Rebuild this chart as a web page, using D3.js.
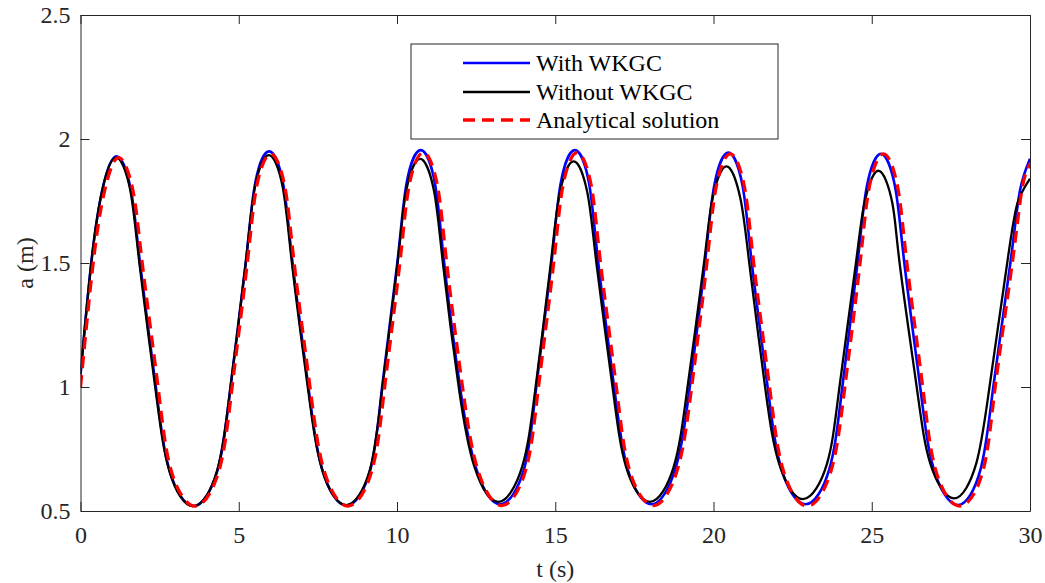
<!DOCTYPE html>
<html>
<head>
<meta charset="utf-8">
<script src="https://cdn.jsdelivr.net/npm/d3@7"></script>
<style>
  html, body { margin: 0; padding: 0; background: #fff; }
  svg { display: block; }
  text { font-family: "Liberation Serif", "Times New Roman", Times, serif; fill: #262626; }
</style>
</head>
<body>
<svg id="chart" width="1045" height="583"></svg>
<script>
// ---- data: [t (s), a (m)] ----
const withWKGC = [
  [0,1.05],[0.34,1.5],[0.69,1.795],[1.14,1.93],[1.59,1.795],[1.88,1.5],[2.38,1.0],[2.81,0.665],[3.57,0.52],
  [4.33,0.665],[4.74,1.0],[5.22,1.5],[5.51,1.815],[5.96,1.95],[6.41,1.815],[6.70,1.5],[7.20,1.0],[7.64,0.667],[8.40,0.522],
  [9.16,0.667],[9.53,1.0],[10.01,1.5],[10.30,1.82],[10.75,1.955],[11.20,1.82],[11.49,1.5],[11.99,1.0],[12.50,0.672],[13.26,0.527],
  [14.02,0.672],[14.40,1.0],[14.88,1.5],[15.17,1.82],[15.62,1.955],[16.07,1.82],[16.36,1.5],[16.86,1.0],[17.28,0.672],[18.04,0.527],
  [18.80,0.672],[19.25,1.0],[19.73,1.5],[20.02,1.81],[20.47,1.945],[20.92,1.81],[21.21,1.5],[21.71,1.0],[22.14,0.672],[22.90,0.527],
  [23.66,0.669],[24.07,1.0],[24.55,1.5],[24.84,1.805],[25.29,1.94],[25.74,1.805],[26.03,1.5],[26.53,1.0],[26.96,0.669],[27.72,0.524],
  [28.44,0.669],[28.84,1.0],[29.38,1.5],[29.68,1.79],[30,1.92]
];
const withoutWKGC = [
  [0,1.05],[0.34,1.5],[0.69,1.795],[1.13,1.925],[1.57,1.795],[1.86,1.5],[2.36,1.0],[2.81,0.66],[3.56,0.52],
  [4.31,0.66],[4.74,1.0],[5.22,1.5],[5.51,1.805],[5.95,1.935],[6.39,1.805],[6.68,1.5],[7.18,1.0],[7.64,0.664],[8.39,0.524],
  [9.14,0.664],[9.54,1.0],[10.02,1.5],[10.29,1.79],[10.73,1.92],[11.17,1.79],[11.45,1.5],[11.95,1.0],[12.45,0.677],[13.20,0.537],
  [13.95,0.677],[14.38,1.0],[14.86,1.5],[15.14,1.78],[15.58,1.91],[16.02,1.78],[16.30,1.5],[16.81,1.0],[17.24,0.677],[17.99,0.537],
  [18.74,0.677],[19.18,1.0],[19.70,1.5],[19.97,1.76],[20.41,1.89],[20.85,1.76],[21.13,1.5],[21.63,1.0],[22.08,0.688],[22.83,0.548],
  [23.58,0.688],[23.98,1.0],[24.50,1.5],[24.77,1.742],[25.21,1.872],[25.65,1.742],[25.88,1.5],[26.42,1.0],[26.85,0.691],[27.60,0.551],
  [28.30,0.691],[28.72,1.0],[29.28,1.5],[29.60,1.74],[30,1.84]
];
const analytical = [
  [0,1.0],[0.40,1.5],[0.76,1.79],[1.21,1.925],[1.66,1.79],[1.95,1.5],[2.45,1.0],[2.86,0.665],[3.62,0.52],
  [4.38,0.665],[4.79,1.0],[5.27,1.5],[5.56,1.805],[6.01,1.94],[6.46,1.805],[6.75,1.5],[7.25,1.0],[7.69,0.665],[8.45,0.52],
  [9.21,0.665],[9.61,1.0],[10.09,1.5],[10.38,1.81],[10.83,1.945],[11.28,1.81],[11.57,1.5],[12.07,1.0],[12.55,0.667],[13.31,0.522],
  [14.07,0.667],[14.47,1.0],[14.95,1.5],[15.24,1.81],[15.69,1.945],[16.14,1.81],[16.43,1.5],[16.93,1.0],[17.34,0.667],[18.10,0.522],
  [18.86,0.667],[19.31,1.0],[19.79,1.5],[20.08,1.805],[20.53,1.94],[20.98,1.805],[21.27,1.5],[21.77,1.0],[22.20,0.665],[22.96,0.52],
  [23.72,0.665],[24.15,1.0],[24.63,1.5],[24.92,1.805],[25.37,1.94],[25.82,1.805],[26.11,1.5],[26.61,1.0],[27.02,0.665],[27.78,0.52],
  [28.52,0.665],[28.90,1.0],[29.44,1.5],[29.75,1.80],[30,1.90]
];
const seriesNames = ["With WKGC", "Without WKGC", "Analytical solution"];
const xTicks = [0, 5, 10, 15, 20, 25, 30];
const yTicks = [0.5, 1, 1.5, 2, 2.5];
const xDomain = [0, 30];
const yDomain = [0.5, 2.5];
const xLabel = "t (s)";
const yLabel = "a (m)";

// ---- layout ----
const L = 80.5, R = 1030, T = 15, B = 511;
const svg = d3.select("#chart");
const x = d3.scaleLinear().domain(xDomain).range([L, R]);
const y = d3.scaleLinear().domain(yDomain).range([B, T]);
const axisColor = "#262626";
const fontSize = 24;
const fontFam = '"Liberation Serif", "Times New Roman", Times, serif';

function styleAxis(g) {
  g.selectAll("path.domain").attr("stroke", axisColor).attr("stroke-width", 1);
  g.selectAll(".tick line").attr("stroke", axisColor).attr("stroke-width", 1);
  g.selectAll(".tick text").attr("fill", axisColor)
    .attr("font-family", fontFam).style("font-family", fontFam)
    .style("font-size", fontSize + "px");
}

svg.append("rect").attr("x", 0).attr("y", 0).attr("width", 1045).attr("height", 583).attr("fill", "#fff");

// curves
svg.append("clipPath").attr("id", "plotclip")
  .append("rect").attr("x", L).attr("y", T).attr("width", R - L).attr("height", B - T);
const line = d3.line().x(d => x(d[0])).y(d => y(d[1])).curve(d3.curveNatural);
const gPlot = svg.append("g").attr("clip-path", "url(#plotclip)");
const styles = [
  { data: withWKGC, color: "#0000ff", width: 2.6, dash: null },
  { data: withoutWKGC, color: "#000000", width: 2.3, dash: null },
  { data: analytical, color: "#ff0000", width: 3.3, dash: "12,7" }
];
styles.forEach(s => {
  gPlot.append("path").datum(s.data)
    .attr("d", line).attr("fill", "none")
    .attr("stroke", s.color).attr("stroke-width", s.width)
    .attr("stroke-dasharray", s.dash).attr("stroke-linejoin", "round");
});

// axes (MATLAB-style box with inward ticks)
const fmt = d => String(d);
svg.append("g").attr("transform", `translate(0,${B})`)
  .call(d3.axisBottom(x).tickValues(xTicks).tickFormat(fmt).tickSize(-9).tickSizeOuter(0).tickPadding(15))
  .call(styleAxis);
svg.append("g").attr("transform", `translate(0,${T})`)
  .call(d3.axisTop(x).tickValues(xTicks).tickFormat("").tickSize(-9).tickSizeOuter(0))
  .call(styleAxis);
svg.append("g").attr("transform", `translate(${L},0)`)
  .call(d3.axisLeft(y).tickValues(yTicks).tickFormat(fmt).tickSize(-9).tickSizeOuter(0).tickPadding(10))
  .call(styleAxis);
svg.append("g").attr("transform", `translate(${R},0)`)
  .call(d3.axisRight(y).tickValues(yTicks).tickFormat("").tickSize(-9).tickSizeOuter(0))
  .call(styleAxis);

// axis labels
svg.append("text").attr("x", (L + R) / 2).attr("y", 577).attr("text-anchor", "middle")
  .attr("font-family", fontFam).style("font-size", fontSize + "px").text(xLabel);
svg.append("text").attr("transform", `translate(33,${(T + B) / 2}) rotate(-90)`).attr("text-anchor", "middle")
  .attr("font-family", fontFam).style("font-size", fontSize + "px").text(yLabel);

// legend
const lg = svg.append("g");
lg.append("rect").attr("x", 411).attr("y", 44).attr("width", 367).attr("height", 95)
  .attr("fill", "#fff").attr("stroke", axisColor).attr("stroke-width", 1);
const rowY = [63, 92, 120];
styles.forEach((s, i) => {
  lg.append("line").attr("x1", 463).attr("x2", 530).attr("y1", rowY[i]).attr("y2", rowY[i])
    .attr("stroke", s.color).attr("stroke-width", s.width).attr("stroke-dasharray", s.dash);
  lg.append("text").attr("x", 536).attr("y", rowY[i] + 8)
    .attr("font-family", fontFam).style("font-size", fontSize + "px").style("fill", "#000").text(seriesNames[i]);
});
</script>
</body>
</html>
